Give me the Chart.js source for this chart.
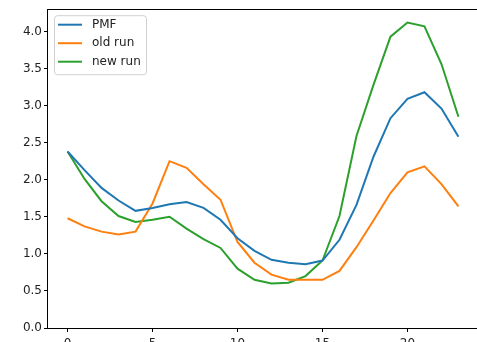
<!DOCTYPE html>
<html>
<head>
<meta charset="utf-8">
<script src="https://cdn.jsdelivr.net/npm/chart.js@4/dist/chart.umd.min.js"></script>
<style>
  html, body { margin: 0; padding: 0; background: #fff; overflow: hidden; }
  canvas { display: block; }
</style>
</head>
<body>
<canvas id="chart" width="480" height="342"></canvas>
<script>
// data
const hours = [0, 1, 2, 3, 4, 5, 6, 7, 8, 9, 10, 11, 12, 13, 14, 15, 16, 17, 18, 19, 20, 21, 22, 23];
const pmf = [2.38, 2.13, 1.89, 1.72, 1.58, 1.62, 1.67, 1.70, 1.62, 1.46, 1.21, 1.04, 0.92, 0.88, 0.86, 0.91, 1.19, 1.66, 2.31, 2.83, 3.09, 3.18, 2.96, 2.58];
const oldRun = [1.48, 1.37, 1.30, 1.26, 1.30, 1.68, 2.25, 2.16, 1.94, 1.73, 1.16, 0.88, 0.72, 0.65, 0.65, 0.65, 0.77, 1.09, 1.45, 1.82, 2.10, 2.18, 1.94, 1.64];
const newRun = [2.38, 2.01, 1.71, 1.51, 1.43, 1.46, 1.50, 1.34, 1.20, 1.08, 0.80, 0.65, 0.60, 0.61, 0.70, 0.91, 1.51, 2.59, 3.28, 3.93, 4.12, 4.07, 3.56, 2.85];
const seriesNames = ["PMF", "old run", "new run"];
const xTicks = [0, 5, 10, 15, 20];
const yTicks = [0, 0.5, 1.0, 1.5, 2.0, 2.5, 3.0, 3.5, 4.0];

const colors = ["#1f77b4", "#ff7f0e", "#2ca02c"];
const font = { family: "DejaVu Sans", size: 12 };

function toPoints(ys) {
  return ys.map((y, i) => ({ x: hours[i], y }));
}

// matplotlib style frame round the axes
const framePlugin = {
  id: "frame",
  afterDraw(chart) {
    const { ctx, chartArea: a } = chart;
    ctx.save();
    ctx.strokeStyle = "#000";
    ctx.lineWidth = 1;
    ctx.strokeRect(Math.round(a.left) - 0.5, Math.round(a.top) + 0.5,
      Math.round(a.right - a.left), Math.round(a.bottom - a.top));
    ctx.restore();
  }
};

// legend drawn inside the axes, top left
const legendBox = {
  id: "legendBox",
  afterDraw(chart) {
    const { ctx, chartArea: a } = chart;
    const x = a.left + 6, y = a.top + 6, w = 92, h = 59;
    ctx.save();
    ctx.fillStyle = "rgba(255,255,255,0.8)";
    ctx.strokeStyle = "#d0d0d0";
    ctx.lineWidth = 1;
    ctx.beginPath();
    ctx.roundRect(x + 0.5, y + 0.5, w, h, 3);
    ctx.fill();
    ctx.stroke();
    ctx.font = font.size + "px " + font.family;
    ctx.textBaseline = "middle";
    chart.data.datasets.forEach((ds, i) => {
      const ry = y + 9.5 + i * 18.5;
      ctx.strokeStyle = ds.borderColor;
      ctx.lineWidth = 2;
      ctx.beginPath();
      ctx.moveTo(x + 4, ry);
      ctx.lineTo(x + 28, ry);
      ctx.stroke();
      ctx.fillStyle = "#222";
      ctx.fillText(ds.label, x + 38, ry);
    });
    ctx.restore();
  }
};

new Chart(document.getElementById("chart"), {
  type: "line",
  data: {
    datasets: [pmf, oldRun, newRun].map((ys, i) => ({
      label: seriesNames[i],
      data: toPoints(ys),
      borderColor: colors[i],
      backgroundColor: colors[i],
      borderWidth: 2,
      pointRadius: 0,
      tension: 0,
      fill: false
    }))
  },
  options: {
    responsive: false,
    animation: false,
    layout: { padding: { top: 6, right: 2, left: 0, bottom: 0 } },
    plugins: { legend: { display: false }, tooltip: { enabled: false } },
    scales: {
      x: {
        type: "linear",
        min: -1.15,
        max: 24.15,
        afterBuildTicks: (s) => { s.ticks = xTicks.map(v => ({ value: v })); },
        afterFit: (s) => { s.height = 14; },
        grid: { drawOnChartArea: false, tickLength: 4, color: "#000", tickColor: "#000" },
        border: { display: false },
        ticks: { font, color: "#222", padding: 5, maxRotation: 0 }
      },
      y: {
        min: 0,
        max: 4.3,
        afterBuildTicks: (s) => { s.ticks = yTicks.map(v => ({ value: v })); },
        afterFit: (s) => { s.width = 48; },
        grid: { drawOnChartArea: false, tickLength: 4, color: "#000", tickColor: "#000" },
        border: { display: false },
        ticks: { font, color: "#222", padding: 2, callback: (v) => v.toFixed(1) }
      }
    }
  },
  plugins: [framePlugin, legendBox]
});
</script>
</body>
</html>
